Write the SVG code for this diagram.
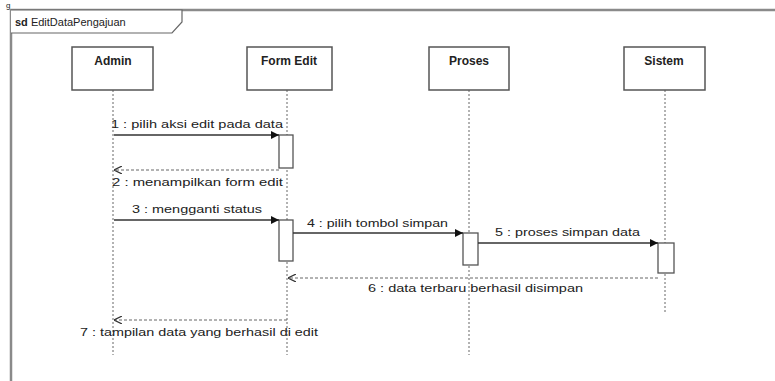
<svg xmlns="http://www.w3.org/2000/svg" width="775" height="381" viewBox="0 0 775 381">
<defs>
<style>
text{font-family:"Liberation Sans",Arial,sans-serif;fill:#222;}
.h{font-size:12px;font-weight:bold;text-anchor:middle;}
.m{font-size:11px;}
.box{fill:#fff;stroke:#555;stroke-width:1.5;}
.life{stroke:#666;stroke-width:1;stroke-dasharray:2,2;fill:none;}
.act{fill:#fff;stroke:#555;stroke-width:1.3;}
.sync{stroke:#333;stroke-width:1.3;fill:none;marker-end:url(#fill);}
.ret{stroke:#666;stroke-width:1;stroke-dasharray:3,2;fill:none;marker-end:url(#open);}
</style>
<marker id="fill" viewBox="0 0 10 10" refX="10" refY="5" markerWidth="10" markerHeight="8" markerUnits="userSpaceOnUse" orient="auto"><path d="M0,0 L10,5 L0,10 z" fill="#111"/></marker>
<marker id="open" viewBox="0 0 10 10" refX="10" refY="5" markerWidth="8" markerHeight="8" markerUnits="userSpaceOnUse" orient="auto"><path d="M0,0 L10,5 L0,10" fill="none" stroke="#333" stroke-width="1.5"/></marker>
</defs>
<rect width="775" height="381" fill="#fff"/>
<text x="6" y="8" style="font-size:8px">g</text>
<g id="frame">
<path d="M11,385 L11,10 L780,10" fill="none" stroke="#8a8a8a" stroke-width="2.5"/>
<path d="M11,10 L182,10 L182,22 L172,33 L11,33" fill="#fff" stroke="#666" stroke-width="1.2"/>
<text x="15" y="26" class="m"><tspan font-weight="bold">sd</tspan> EditDataPengajuan</text>
</g>
<g id="admin">
<line class="life" x1="113" y1="90" x2="113" y2="355"/>
<rect class="box" x="72" y="47" width="81" height="43"/>
<text class="h" x="113" y="65">Admin</text>
</g>
<g id="formedit">
<line class="life" x1="287" y1="90" x2="287" y2="355"/>
<rect class="box" x="247" y="47" width="85" height="43"/>
<text class="h" x="289" y="65">Form Edit</text>
<rect class="act" x="279" y="135" width="14" height="33"/>
<rect class="act" x="279" y="220" width="14" height="41"/>
</g>
<g id="proses">
<line class="life" x1="469" y1="90" x2="469" y2="355"/>
<rect class="box" x="429" y="47" width="80" height="43"/>
<text class="h" x="469" y="65">Proses</text>
<rect class="act" x="463" y="233" width="15" height="32"/>
</g>
<g id="sistem">
<line class="life" x1="665" y1="90" x2="665" y2="312"/>
<rect class="box" x="624" y="47" width="81" height="43"/>
<text class="h" x="664" y="65">Sistem</text>
<rect class="act" x="658" y="243" width="16" height="30"/>
</g>
<g id="connectors">
<line class="sync" x1="114" y1="135" x2="279" y2="135"/>
<text class="m" x="111" y="128" textLength="172" lengthAdjust="spacingAndGlyphs">1 : pilih aksi edit pada data</text>
<line class="ret" x1="279" y1="170" x2="114" y2="170"/>
<text class="m" x="112" y="186" textLength="171" lengthAdjust="spacingAndGlyphs">2 : menampilkan form edit</text>
<line class="sync" x1="114" y1="220" x2="279" y2="220"/>
<text class="m" x="132" y="213" textLength="130" lengthAdjust="spacingAndGlyphs">3 : mengganti status</text>
<line class="sync" x1="293" y1="233" x2="463" y2="233"/>
<text class="m" x="307" y="227" textLength="141" lengthAdjust="spacingAndGlyphs">4 : pilih tombol simpan</text>
<line class="sync" x1="478" y1="243" x2="658" y2="243"/>
<text class="m" x="495" y="236" textLength="145" lengthAdjust="spacingAndGlyphs">5 : proses simpan data</text>
<line class="ret" x1="658" y1="278" x2="288" y2="278"/>
<text class="m" x="368" y="292" textLength="215" lengthAdjust="spacingAndGlyphs">6 : data terbaru berhasil disimpan</text>
<line class="ret" x1="287" y1="320" x2="114" y2="320"/>
<text class="m" x="80" y="336" textLength="238" lengthAdjust="spacingAndGlyphs">7 : tampilan data yang berhasil di edit</text>
</g>
</svg>
